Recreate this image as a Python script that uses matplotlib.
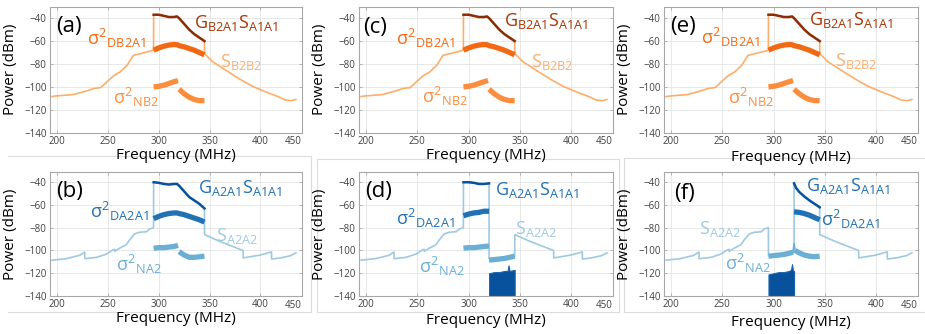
import numpy as np
import matplotlib
matplotlib.use("Agg")
from matplotlib import pyplot as plt
from matplotlib.lines import Line2D

plt.rcParams['font.family'] = ['Open Sans', 'DejaVu Sans']
plt.rcParams['mathtext.fontset'] = 'custom'
plt.rcParams['mathtext.rm'] = 'Open Sans'
plt.rcParams['mathtext.it'] = 'Open Sans'
plt.rcParams['mathtext.default'] = 'regular'

# ---- top row (B2 receiver, orange) ----
s_b2_x = [195, 198, 216, 229, 236, 243, 249, 256, 262, 269, 275, 282, 288, 294.9,
          295, 300, 305, 310, 315, 318, 320, 325, 330, 335, 340, 345,
          345.1, 353, 366, 379, 392, 405, 418, 425, 431, 435]
s_b2_y = [-108.5, -108, -106.7, -103.5, -101.4, -100.6, -95.6, -90, -87, -81, -72.5, -71, -69.6, -68,
          -37, -37, -38, -39, -39, -38.5, -40, -45, -50, -54, -57, -60,
          -71, -78, -85.5, -92.8, -99.4, -104.3, -108.7, -111.6, -112, -111]

band_x = [295, 300, 305, 310, 315, 318, 320, 325, 330, 335, 340, 345]
g_b2 = [-37, -37, -38, -39, -39, -38.5, -40, -45, -50, -54, -57, -60]
d_b2 = [-68, -66, -64.5, -63.5, -63, -63.2, -64, -65, -66.5, -68, -70, -72]

n_b2_x1 = [295, 300, 305, 310, 315, 319]
n_b2_y1 = [-100, -99.5, -98.5, -97, -95.5, -94.5]
n_b2_x2 = [320, 325, 330, 335, 340, 345]
n_b2_y2 = [-102, -106, -109, -111, -112, -112]

# ---- bottom row (A2 receiver, blue) ----
s_a2_left_x = [195, 209, 222, 227.2, 227.3, 239, 248.5, 255, 256.6, 256.7, 261.5, 268, 271.4, 276.3, 281, 288, 291, 294.9]
s_a2_left_y = [-108.5, -107.2, -104.3, -101.4, -107.2, -106, -103.2, -99.4, -99, -100.8, -98, -95, -90.6, -85.4, -84, -83.5, -81, -80]
s_a2_right_x = [345.1, 350, 360, 370, 383, 383.1, 390, 400, 411, 411.1, 420, 430, 435]
s_a2_right_y = [-86, -88, -92, -95.5, -100, -106.5, -105.5, -104, -101.2, -107.5, -106.5, -104.5, -102]

# (b)
g_a2_b = [-40, -40.5, -41.5, -42, -41.5, -41.5, -43, -48, -53, -56, -59, -63]
d_a2_b = [-72, -70, -68.5, -67.5, -67, -67, -67.5, -68.5, -70, -71.5, -73, -75]
n_a2_b_x1 = [295, 300, 305, 310, 315, 319]
n_a2_b_y1 = [-98, -97.5, -97.5, -97, -96.5, -95.5]
n_a2_b_y2 = [-101, -104, -106, -106, -105.5, -105]

# (d)
half1_x = [295, 300, 305, 310, 315, 320]
half2_x = [320, 325, 330, 335, 340, 345]
g_a2_d = [-40, -40, -40.5, -41.5, -41.5, -41]
d_a2_d = [-69.5, -68, -67, -66.5, -65.5, -65.5]
n_a2_d_y1 = [-98, -97.5, -97.5, -97, -96.5, -96]
n_a2_d_y2 = [-108.5, -108, -107.5, -107, -106, -105]
s_a2_d_mid = [-107, -107, -107, -106.5, -106, -105]
noise_d_x = [320, 325, 330, 335, 338, 339, 340, 345]
noise_d_top = [-120, -119, -119, -118, -118, -113, -118, -117]

# (f)
g_a2_f_x = [320, 322, 325, 330, 335, 340, 345]
g_a2_f = [-41, -45, -48.5, -52.5, -56, -59, -62]
d_a2_f = [-66, -66.5, -67.5, -69, -71, -73]
n_a2_f_x1 = [295, 300, 305, 310, 315, 319]
n_a2_f_y1 = [-105, -104.5, -104, -103.5, -102.5, -101.5]
n_a2_f_spike_x = [319, 320, 321]
n_a2_f_spike_y = [-101.5, -94, -100]
n_a2_f_x2 = [321, 325, 330, 335, 340, 345]
n_a2_f_y2 = [-100, -102, -104, -105, -105.5, -105]
s_a2_f_mid = [-104.5, -104, -103.5, -103, -102, -101]
noise_f_x = [295, 300, 305, 310, 315, 317, 318, 319, 320]
noise_f_top = [-121, -120, -119, -119, -118, -117, -112, -118, -118]

yticks = [-140, -120, -100, -80, -60, -40]
xticks = [200, 250, 300, 350, 400]

OR_S, OR_N, OR_D, OR_G, OR_GT = '#fdae6b', '#fd8d3c', '#f16913', '#8c2d04', '#a63603'
BL_S, BL_N, BL_D, BL_G, BL_GT = '#9ecae1', '#6baed6', '#2171b5', '#08519c', '#2171b5'

LBL_D_B = r'$\sigma^2{}_{D}{}_{B2A1}$'
LBL_N_B = r'$\sigma^2{}_{N}{}_{B2}$'
LBL_D_A = r'$\sigma^2{}_{D}{}_{A2A1}$'
LBL_N_A = r'$\sigma^2{}_{N}{}_{A2}$'

fig = plt.figure(figsize=(9.25, 3.34), dpi=100)


def px(l, t, r, b):
    return [l / 925, 1 - b / 334, (r - l) / 925, (b - t) / 334]


def style(ax, ylim, xlab_y):
    ax.set_xlim(193, 441)
    ax.set_ylim(*ylim)
    ax.set_xticks(xticks)
    ax.set_yticks(yticks)
    ax.grid(True, color='#e4e4e4', lw=0.6)
    ax.set_axisbelow(True)
    for sp in ax.spines.values():
        sp.set_color('#a8a8a8')
        sp.set_linewidth(0.8)
    ax.tick_params(direction='in', length=2.5, width=0.6, colors='#a8a8a8',
                   labelcolor='#404040', labelsize=7, top=True, right=True, pad=2.5)
    ax.text(1.0, -0.03, '450', transform=ax.transAxes, ha='right', va='top',
            fontsize=7, color='#404040')
    ax.set_xlabel('Frequency (MHz)', fontsize=11)
    ax.set_ylabel('Power (dBm)', fontsize=11)
    ax.xaxis.set_label_coords(0.5, xlab_y)
    ax.yaxis.set_label_coords(-0.125, 0.5)


def lab(ax, x, y, s, c, fs=13):
    ax.text(x, y, s, color=c, fontsize=fs, ha='left', va='center')


top_boxes = [px(50, 6.7, 302, 132.7), px(359, 6.7, 613, 132.7), px(664, 6.7, 918, 132.7)]
top_names = ['(a)', '(c)', '(e)']
top_xl = [-0.12, -0.12, -0.14]
top_txt = [
    [(199, -47), (229.5, -58), (335, -44), (360, -78), (255, -109)],
    [(197.5, -48), (229.5, -58), (335, -42.5), (360.5, -78), (255, -108.5)],
    [(199, -47), (229.5, -57), (335, -42), (360, -77), (255, -109)],
]

for box, name, xl, t in zip(top_boxes, top_names, top_xl, top_txt):
    ax = fig.add_axes(box)
    ax.plot(s_b2_x, s_b2_y, color=OR_S, lw=1.2)
    ax.plot(n_b2_x1, n_b2_y1, color=OR_N, lw=3.8, solid_capstyle='butt')
    ax.plot(n_b2_x2, n_b2_y2, color=OR_N, lw=3.8, solid_capstyle='butt')
    ax.plot(band_x, d_b2, color=OR_D, lw=3.8, solid_capstyle='butt')
    ax.plot(band_x, g_b2, color=OR_G, lw=1.8)
    style(ax, (-140, -30), xl)
    ax.text(t[0][0], t[0][1], name, fontsize=16, ha='left', va='center')
    lab(ax, *t[1], LBL_D_B, OR_D)
    lab(ax, *t[2], r'$G_{B2A1}S_{A1A1}$', OR_GT)
    lab(ax, *t[3], r'$S_{B2B2}$', OR_S)
    lab(ax, *t[4], LBL_N_B, OR_N)

bot_boxes = [px(50, 172, 302, 296), px(359, 172, 613, 296), px(664, 172, 918, 296)]
bot_xl = [-0.125, -0.14, -0.155]

# (b)
ax = fig.add_axes(bot_boxes[0])
ax.plot(s_a2_left_x + band_x + s_a2_right_x, s_a2_left_y + g_a2_b + s_a2_right_y, color=BL_S, lw=1.2)
ax.plot(n_a2_b_x1, n_a2_b_y1, color=BL_N, lw=3.8, solid_capstyle='butt')
ax.plot(half2_x, n_a2_b_y2, color=BL_N, lw=3.8, solid_capstyle='butt')
ax.plot(band_x, d_a2_b, color=BL_D, lw=3.8, solid_capstyle='butt')
ax.plot(band_x, g_a2_b, color=BL_G, lw=1.8)
style(ax, (-140, -31), bot_xl[0])
ax.text(199, -48.5, '(b)', fontsize=16, ha='left', va='center')
lab(ax, 232.5, -66, LBL_D_A, BL_D)
lab(ax, 338.5, -45.5, r'$G_{A2A1}S_{A1A1}$', BL_GT)
lab(ax, 356, -87, r'$S_{A2A2}$', BL_S)
lab(ax, 258, -112, LBL_N_A, BL_N)

# (d)
ax = fig.add_axes(bot_boxes[1])
ax.plot(s_a2_left_x + half1_x + half2_x + s_a2_right_x,
        s_a2_left_y + g_a2_d + s_a2_d_mid + s_a2_right_y, color=BL_S, lw=1.2)
ax.fill_between(noise_d_x, -140, noise_d_top, color=BL_G, lw=0.8, edgecolor='#1f63ad')
ax.plot(half1_x, n_a2_d_y1, color=BL_N, lw=3.8, solid_capstyle='butt')
ax.plot(half2_x, n_a2_d_y2, color=BL_N, lw=3.8, solid_capstyle='butt')
ax.plot(half1_x, d_a2_d, color=BL_D, lw=3.8, solid_capstyle='butt')
ax.plot(half1_x, g_a2_d, color=BL_G, lw=1.8)
style(ax, (-140, -31), bot_xl[1])
ax.text(198.5, -48.5, '(d)', fontsize=16, ha='left', va='center')
lab(ax, 229.5, -72, LBL_D_A, BL_D)
lab(ax, 325.5, -46.5, r'$G_{A2A1}S_{A1A1}$', BL_GT)
lab(ax, 345, -81.5, r'$S_{A2A2}$', BL_S)
lab(ax, 251.5, -114, LBL_N_A, BL_N)

# (f)
ax = fig.add_axes(bot_boxes[2])
ax.plot(s_a2_left_x + half1_x + g_a2_f_x + s_a2_right_x,
        s_a2_left_y + s_a2_f_mid + g_a2_f + s_a2_right_y, color=BL_S, lw=1.2)
ax.fill_between(noise_f_x, -140, noise_f_top, color=BL_G, lw=0.8, edgecolor='#1f63ad')
ax.plot(n_a2_f_x1, n_a2_f_y1, color=BL_N, lw=3.8, solid_capstyle='butt')
ax.plot(n_a2_f_spike_x, n_a2_f_spike_y, color=BL_N, lw=1.2)
ax.plot(n_a2_f_x2, n_a2_f_y2, color=BL_N, lw=3.8, solid_capstyle='butt')
ax.plot(half2_x, d_a2_f, color=BL_D, lw=3.8, solid_capstyle='butt')
ax.plot(g_a2_f_x, g_a2_f, color=BL_G, lw=1.8)
style(ax, (-140, -31), bot_xl[2])
ax.text(202.5, -49.5, '(f)', fontsize=16, ha='left', va='center')
lab(ax, 332, -43.5, r'$G_{A2A1}S_{A1A1}$', BL_GT)
lab(ax, 346.5, -73, LBL_D_A, BL_D)
lab(ax, 227, -81.5, r'$S_{A2A2}$', BL_S)
lab(ax, 252.5, -111, LBL_N_A, BL_N)

# faint borders of the composited sub-figures
frames = [
    [(8, 156), (311, 156), (311, 312), (8, 312)],
    [(317, 312), (317, 159), (619, 159), (619, 312), (317, 312)],
    [(624, 312), (624, 158), (925, 158)],
    [(624, 312), (925, 312)],
]
for fr in frames:
    xs = [p[0] / 925 for p in fr]
    ys = [1 - p[1] / 334 for p in fr]
    fig.add_artist(Line2D(xs, ys, transform=fig.transFigure, color='#dcdcdc', lw=0.8, zorder=0))

fig.savefig('out.png', dpi=100)
